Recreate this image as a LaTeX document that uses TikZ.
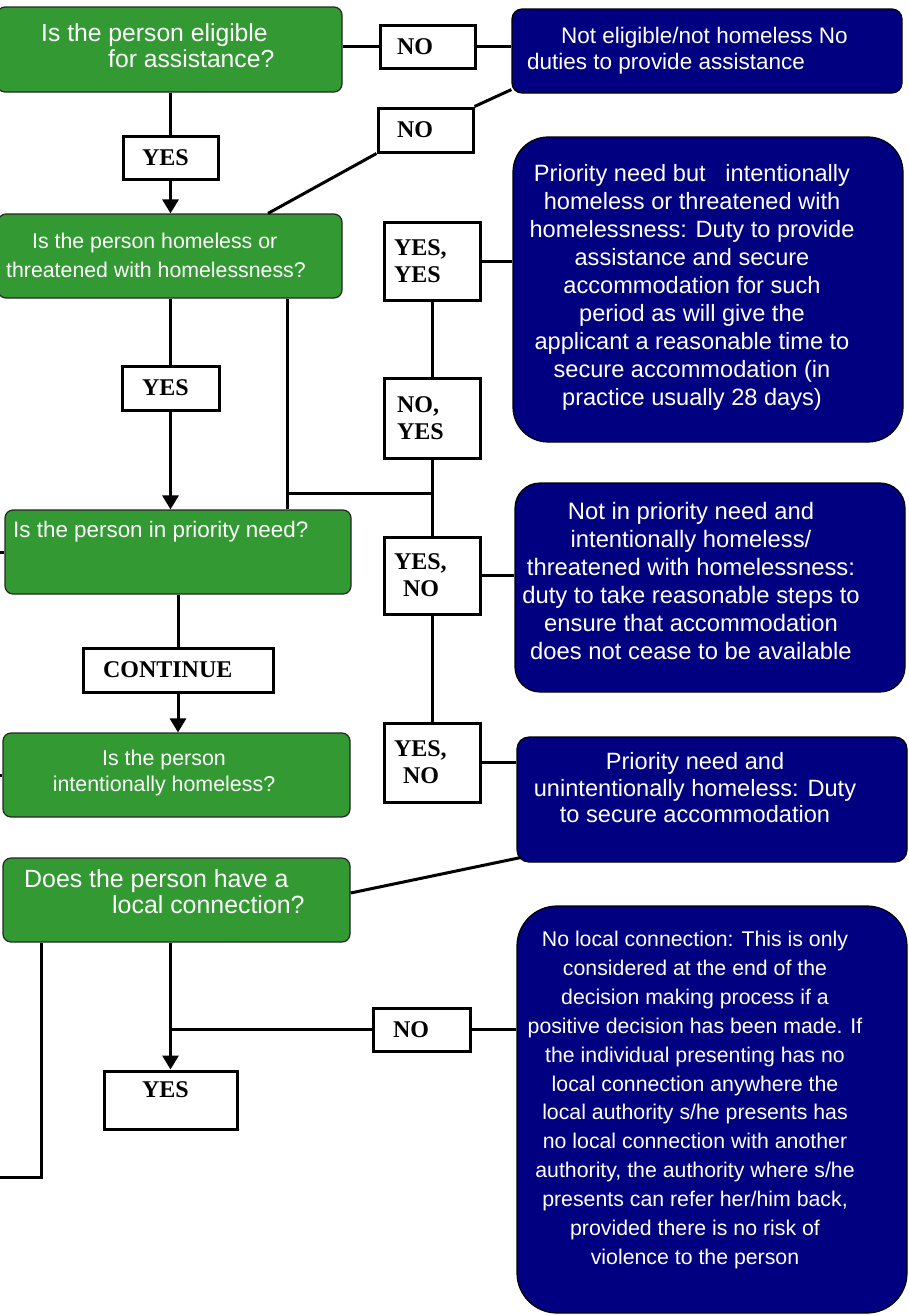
\documentclass[tikz,border=0pt]{standalone}
\usepackage{fontspec}
\setmainfont{Liberation Serif}
\newfontfamily\arialfont{Liberation Sans}
\usepackage{xcolor}
\usepackage{tikz}
\usetikzlibrary{arrows.meta,positioning}
\definecolor{qgreen}{RGB}{51,153,51}
\definecolor{dutyblue}{RGB}{0,0,128}
\tikzset{>={Triangle[width=16pt,length=14pt]}}

\begin{document}
\begin{tikzpicture}[x=1pt,y=-1pt,
                    question/.style={draw=black!85, fill=qgreen, line width=1.2pt, rounded corners=8pt, inner sep=0pt},
                    duty/.style={draw=black, fill=dutyblue, line width=1.2pt, inner sep=0pt, minimum width=390pt},
                    qtext/.style={text=white, inner sep=0pt},
                    dtext/.style={text=white, inner sep=0pt, align=center},
                    answer/.style={draw=black, fill=white, line width=3pt, inner ysep=0pt, align=left,
                                   font=\fontsize{24}{27}\selectfont\bfseries},
                    link/.style={line width=3pt},
                   ]

\useasboundingbox (0,0) rectangle (909,1315);
\coordinate (lft) at (0,0);

% questions
\node[question, minimum width=345pt, minimum height=85pt] (q1) at (169.5,49.5) {};
\node[question, minimum width=344pt, minimum height=84pt] (q2) at (170,256) {};
\node[question, minimum width=346pt, minimum height=84pt] (q3) at (178,552) {};
\node[question, minimum width=347pt, minimum height=84pt] (q4) at (176.5,775) {};
\node[question, minimum width=347pt, minimum height=84pt] (q5) at (176.5,900) {};

\node[qtext, anchor=west, align=left, font=\arialfont\fontsize{24.7}{26}\selectfont] (q1t) at (41,46)
     {Is the person eligible\\\hspace*{67pt}for assistance?};
\node[qtext, anchor=west, align=left, font=\arialfont\fontsize{21.3}{29}\selectfont] (q2t) at (6,255)
     {\hspace*{26pt}Is the person homeless or\\threatened with homelessness?};
\node[qtext, anchor=west, font=\arialfont\fontsize{22.4}{27}\selectfont] (q3t) at (13,532)
     {Is the person in priority need?};
\node[qtext, align=center, font=\arialfont\fontsize{21.4}{26}\selectfont] (q4t) at (164,772.5)
     {Is the person\\intentionally homeless?};
\node[qtext, anchor=west, align=left, font=\arialfont\fontsize{24.9}{26}\selectfont] (q5t) at (24,892)
     {Does the person have a\\\hspace*{88pt}local connection?};

% duties
\node[duty, rounded corners=10pt, minimum height=84pt] (d1) at (707,51) {};
\node[duty, rounded corners=35pt, minimum height=305pt] (d2) at (708,289.5) {};
\node[duty, rounded corners=25pt, minimum height=209pt] (d3) at (710,587.5) {};
\node[duty, rounded corners=12pt, minimum height=125pt] (d4) at (712,799.5) {};
\node[duty, rounded corners=40pt, minimum height=407pt] (d5) at (712,1109.5) {};

\node[dtext, anchor=west, align=left, font=\arialfont\fontsize{22.5}{26}\selectfont] (d1t) at (527,51)
     {\hspace*{34pt}Not eligible/not homeless No\\duties to provide assistance};
\node[dtext, font=\arialfont\fontsize{23.6}{28}\selectfont] (d2t) at (692,287)
     {Priority need but~~~intentionally\\homeless or threatened with\\homelessness: Duty to provide\\assistance and secure\\accommodation for such\\period as will give the\\applicant a reasonable time to\\secure accommodation (in\\practice usually 28 days)};
\node[dtext, font=\arialfont\fontsize{23.8}{28}\selectfont] (d3t) at (691,581)
     {Not in priority need and\\intentionally homeless/\\threatened with homelessness:\\duty to take reasonable steps to\\ensure that accommodation\\does not cease to be available};
\node[dtext, font=\arialfont\fontsize{23.6}{26.5}\selectfont] (d4t) at (695,788)
     {Priority need and\\unintentionally homeless: Duty\\to secure accommodation};
\node[dtext, font=\arialfont\fontsize{21.3}{28.9}\selectfont] (d5t) at (695,1100)
     {No local connection: This is only\\considered at the end of the\\decision making process if a\\positive decision has been made. If\\the individual presenting has no\\local connection anywhere the\\local authority s/he presents has\\no local connection with another\\authority, the authority where s/he\\presents can refer her/him back,\\provided there is no risk of\\violence to the person};

% answers
\node[answer, inner xsep=17pt, text width=61pt, minimum height=43pt] (n1) at (427.5,46.5) {NO};
\node[answer, inner xsep=19pt, text width=57pt, minimum height=44pt] (n2) at (425.5,130) {NO};
\node[answer, inner xsep=19pt, text width=57pt, minimum height=43pt] (y1) at (170.5,157.5) {YES};
\node[answer, inner xsep=10pt, text width=76pt, minimum height=78pt] (yy) at (432,261) {YES,\\YES};
\node[answer, inner xsep=20pt, text width=57pt, minimum height=44pt] (y2) at (170.5,388) {YES};
\node[answer, inner xsep=13pt, text width=70pt, minimum height=80pt] (ny) at (432,418) {NO,\\YES};
\node[answer, inner xsep=10pt, text width=76pt, minimum height=77pt] (yn1) at (432,575.5) {YES,\\\hspace*{9pt}NO};
\node[answer, inner xsep=10pt, text width=76pt, minimum height=79pt] (yn2) at (432,762.5) {YES,\\\hspace*{9pt}NO};
\node[answer, inner xsep=20pt, text width=150pt, minimum height=44pt] (c1) at (178,670) {CONTINUE};
\node[answer, inner xsep=20pt, text width=57pt, minimum height=43pt] (n3) at (421.5,1029.5) {NO};
\node[answer, inner xsep=38pt, text width=57pt, minimum height=58pt, text depth=20pt] (y3) at (170.5,1100) {YES};

% links
\draw[link] (q1.east |- n1.west) -- (n1.west);
\draw[link] (n1.east) -- (n1.east -| d1.west);
\draw[link] (n2.north east) -- ([yshift=4pt]d1.south west);
\draw[link] (n2.south west) -- ([xshift=98pt]q2.north);
\draw[link] (y1.north |- q1.south) -- (y1.north);
\draw[link,->] (y1.south) -- (y1.south |- q2.north);

\draw[link] (y2.north |- q2.south) -- (y2.north);
\draw[link,->] (y2.south) -- (y2.south |- q3.north);
\coordinate (j1) at (287,493);
\draw[link] (j1 |- q2.south) -- (j1 |- q3.north);
\draw[link] (j1) -- (j1 -| ny.south);

\draw[link] (yy.south) -- (ny.north);
\draw[link] (ny.south) -- (yn1.north);
\draw[link] (yn1.south) -- (yn2.north);
\draw[link] (yy.east) -- (yy.east -| d2.west);
\draw[link] (yn1.east) -- (yn1.east -| d3.west);
\draw[link] (yn2.east) -- (yn2.east -| d4.west);

\draw[link] (q3.west) -- (q3.west -| lft);
\draw[link] (q4.west) -- (q4.west -| lft);
\draw[link] (c1.north |- q3.south) -- (c1.north);
\draw[link,->] (c1.south) -- (c1.south |- q4.north);

\draw[link] ([yshift=7pt]q5.east) -- ([xshift=4pt,yshift=5pt]d4.south west);
\coordinate (b1) at (41,1177);
\draw[link] (b1 |- q5.south) -- (b1) -- (b1 -| lft);
\draw[link,->] (y3.north |- q5.south) -- (y3.north);
\draw[link] (n3.west) -- (n3.west -| y3.north);
\draw[link] (n3.east) -- (n3.east -| d5.west);

\end{tikzpicture}
\end{document}
